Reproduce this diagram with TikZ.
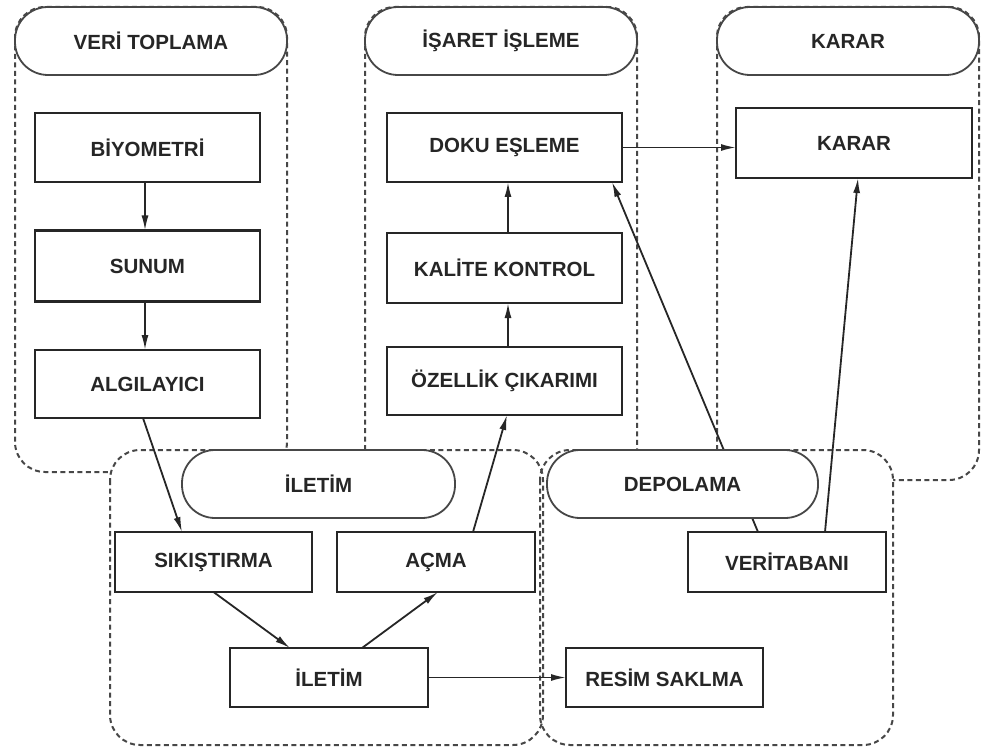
\documentclass[tikz,border=0pt]{standalone}
\usepackage{fontspec}
\setmainfont{Liberation Sans}
\usetikzlibrary{arrows.meta}
\begin{document}
\begin{tikzpicture}[x=1pt,y=-1pt,
  grp/.style={draw=black!72,line width=2pt,dash pattern=on 5pt off 3.5pt,rounded corners=30pt},
  pill/.style={draw=black!72,line width=1.8pt,fill=white,rounded corners=33pt,inner sep=0pt,outer sep=0pt,
    minimum height=68pt,font=\fontsize{20.5}{24}\selectfont\bfseries,text=black!85},
  stepbox/.style={draw=black!85,line width=2.5pt,fill=white,inner sep=0pt,outer sep=0pt,
    font=\fontsize{20.5}{24}\selectfont\bfseries,text=black!85},
  conn/.style={draw=black!85,line width=1.8pt,-{Latex[length=15pt,width=7pt]}}]
\useasboundingbox (0,0) rectangle (981,751);
% top groups
\draw[grp] (15,7) rectangle (287,472);
\draw[grp] (365,450) -- (365,7) -- (637,7) -- (637,450);
\draw[grp] (717,7) rectangle (979,480);
% bottom groups
\fill[white,rounded corners=30pt] (110,450) rectangle (543,745);
\fill[white,rounded corners=30pt] (540,450) rectangle (893,745);
\draw[grp] (110,450) rectangle (543,745);
\draw[grp] (540,450) rectangle (893,745);
% pills
\node[pill,minimum width=272pt] (pveri) at (151,41) {VERİ TOPLAMA};
\node[pill,minimum width=272pt] (pisaret) at (501,41) {İŞARET İŞLEME};
\node[pill,minimum width=262pt] (pkarar) at (848,41) {KARAR};
\node[pill,minimum width=273pt] (piletim) at (318.5,484) {İLETİM};
% boxes
\node[stepbox,minimum width=225pt,minimum height=69pt] (bio) at (147.5,147.5) {BİYOMETRİ};
\node[stepbox,minimum width=225pt,minimum height=71pt] (sunum) at (147.5,266) {SUNUM};
\node[stepbox,minimum width=225pt,minimum height=68pt] (algi) at (147.5,384) {ALGILAYICI};
\node[stepbox,minimum width=235pt,minimum height=69pt] (doku) at (504.5,147.5) {DOKU EŞLEME};
\node[stepbox,minimum width=235pt,minimum height=70pt] (kal) at (504.5,268) {KALİTE KONTROL};
\node[stepbox,minimum width=235pt,minimum height=68pt] (oz) at (504.5,381) {ÖZELLİK ÇIKARIMI};
\node[stepbox,minimum width=236pt,minimum height=70pt] (karar) at (854,143) {KARAR};
\node[stepbox,minimum width=197pt,minimum height=60pt] (sik) at (213.5,562) {SIKIŞTIRMA};
\node[stepbox,minimum width=198pt,minimum height=60pt] (acma) at (436,562) {AÇMA};
\node[stepbox,minimum width=198pt,minimum height=59pt] (ilet) at (329,677.5) {İLETİM};
\node[stepbox,minimum width=198pt,minimum height=60pt] (vt) at (787,562) {VERİTABANI};
\node[stepbox,minimum width=197pt,minimum height=59pt] (resim) at (664.5,677.5) {RESİM SAKLMA};
% connectors
\draw[conn] ([xshift=-2.5pt]bio.south) -- ([xshift=-2.5pt]sunum.north);
\draw[conn] ([xshift=-2.5pt]sunum.south) -- ([xshift=-2.5pt]algi.north);
\draw[conn] ([xshift=-4.5pt]algi.south) -- ([xshift=-31.5pt]sik.north);
\draw[conn] (sik.south) -- ([xshift=-39pt]ilet.north);
\draw[conn] ([xshift=33pt]ilet.north) -- ([xshift=2pt]acma.south);
\draw[conn] ([xshift=37pt]acma.north) -- ([xshift=2.5pt]oz.south);
\draw[conn] ([xshift=3.5pt]oz.north) -- ([xshift=3.5pt]kal.south);
\draw[conn] ([xshift=3.5pt]kal.north) -- ([xshift=3.5pt]doku.south);
\draw[conn] (doku.east) -- (doku.east -| karar.west);
\draw[conn] ([xshift=-29pt]vt.north) -- ([xshift=107.5pt]doku.south);
\draw[conn] ([xshift=38pt]vt.north) -- ([xshift=4pt]karar.south);
\draw[conn] (ilet.east) -- (resim.west);
% storage pill drawn over the database line
\node[pill,minimum width=271pt] (pdepo) at (682.5,484) {DEPOLAMA};
\end{tikzpicture}
\end{document}
